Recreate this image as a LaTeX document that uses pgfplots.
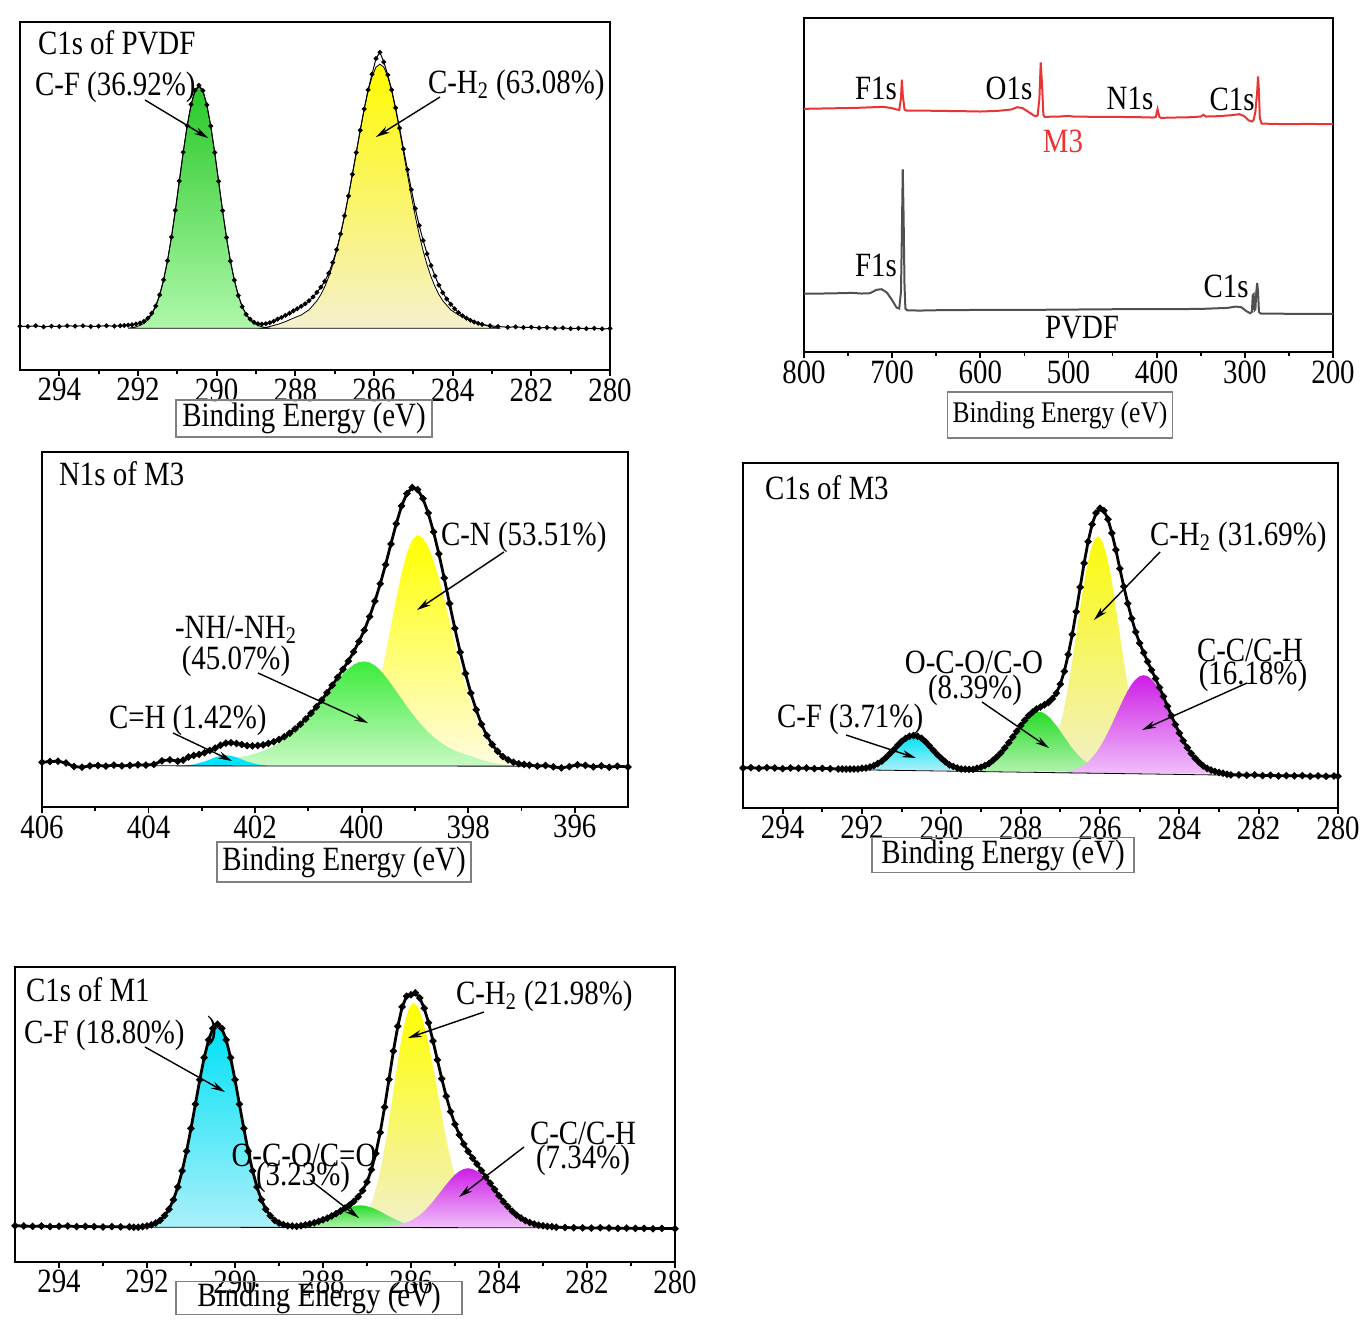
\documentclass[border=0pt]{standalone}
\usepackage{fontspec}
\setmainfont{Liberation Serif}[FakeStretch=0.85]
\usepackage{pgfplots}
\pgfplotsset{compat=1.18}
\usetikzlibrary{arrows.meta}
\newcommand\fs{\fontsize{17}{19}\selectfont}
\newcommand\fss{\fontsize{15}{17}\selectfont}
\definecolor{pgT}{RGB}{40,200,40}\definecolor{pgB}{RGB}{175,248,170}
\definecolor{pyT}{RGB}{255,250,0}\definecolor{pyB}{RGB}{245,240,205}
\definecolor{nyT}{RGB}{255,255,0}\definecolor{nyB}{RGB}{255,252,225}
\definecolor{ngT}{RGB}{60,235,60}\definecolor{ngB}{RGB}{200,250,195}
\definecolor{ncy}{RGB}{0,230,255}
\definecolor{cyT}{RGB}{0,225,245}\definecolor{cyB}{RGB}{170,240,250}
\definecolor{mgT}{RGB}{205,30,230}\definecolor{mgB}{RGB}{240,190,250}
\definecolor{gnT}{RGB}{40,220,40}\definecolor{gnB}{RGB}{175,242,172}
\definecolor{ylT}{RGB}{250,250,10}\definecolor{ylB}{RGB}{242,240,200}
\definecolor{sred}{RGB}{232,52,52}
\definecolor{sgray}{RGB}{80,80,80}
\pgfplotsset{xps/.style={scale only axis, anchor=south west, x dir=reverse,
  ymin=0, ymax=100, ytick=\empty, xtick pos=left, tick align=outside,
  major tick length=3pt, minor tick length=1.8pt,
  tick style={black, line width=0.9pt}, axis line style={line width=1.2pt},
  tick label style={font=\fs}, /pgf/number format/assume math mode=true,
  /pgf/number format/1000 sep={}, xticklabel style={inner sep=1pt}},
  fitc/.style={draw=black, line width=0.4pt},
  dat/.style={black, line width=0.5pt, mark=*, mark size=0.95pt},
  env/.style={black, line width=1.4pt, mark=*, mark size=0.95pt}}
\tikzset{arr/.style={-{Stealth[length=7pt,width=3.6pt]}, line width=0.7pt},
  lb/.style={draw=gray, line width=0.7pt, inner sep=0pt, font=\fs}}
\begin{document}
\begin{tikzpicture}
\path[use as bounding box] (0,0) rectangle (685pt,-663pt);
% ---------- Panel 1: C1s of PVDF ----------
\begin{axis}[xps, at={(10pt,-185pt)}, width=295pt, height=174pt,
  xmin=280, xmax=295, xtick={280,282,...,294}, minor xtick={281,283,...,293}]
\addplot[fitc, top color=pyT, bottom color=pyB] coordinates {
(288.85,12.0)(288.65,12.5)(288.45,13.1)(288.25,13.9)(288.05,14.9)(287.85,15.8)(287.65,17.3)(287.45,19.9)(287.35,21.7)(287.25,24.0)(287.15,26.8)(287.05,30.2)(286.95,34.2)(286.85,38.9)(286.75,44.2)(286.65,50.0)(286.55,56.2)(286.45,62.5)(286.35,68.9)(286.25,74.9)(286.15,80.2)(286.05,84.3)(285.95,87.0)(285.85,87.9)(285.75,87.0)(285.65,84.3)(285.55,80.2)(285.45,74.9)(285.35,68.9)(285.25,62.5)(285.15,56.2)(285.05,50.0)(284.95,44.2)(284.85,38.9)(284.75,34.2)(284.65,30.2)(284.55,26.8)(284.45,24.0)(284.35,21.7)(284.25,19.9)(284.05,17.3)(283.85,15.8)(283.65,14.9)(283.45,13.9)(283.25,13.1)(283.05,12.5)(282.85,12.0)} -- cycle;
\addplot[fitc, top color=pgT, bottom color=pgB] coordinates {
(292.25,12.0)(292.15,12.2)(292.05,12.4)(291.95,12.8)(291.85,13.4)(291.75,14.4)(291.65,15.9)(291.55,18.2)(291.45,21.4)(291.35,25.8)(291.25,31.3)(291.15,38.1)(291.05,45.8)(290.95,54.2)(290.85,62.5)(290.75,70.1)(290.65,76.2)(290.55,80.1)(290.45,81.5)(290.35,80.1)(290.25,76.2)(290.15,70.1)(290.05,62.5)(289.95,54.2)(289.85,45.8)(289.75,38.1)(289.65,31.3)(289.55,25.8)(289.45,21.4)(289.35,18.2)(289.25,15.9)(289.15,14.4)(289.05,13.4)(288.95,12.8)(288.85,12.4)(288.75,12.2)(288.65,12.0)} -- cycle;
\addplot[dat] coordinates {
(295,12.6)(294.8,12.5)(294.6,12.7)(294.4,12.4)(294.2,12.6)(294.0,12.5)(293.8,12.7)(293.6,12.6)(293.4,12.7)(293.2,12.5)(293.0,12.6)(292.8,12.7)(292.6,12.6)(292.45,12.7)(292.35,12.8)
(292.25,12.9)(292.15,13.0)(292.05,13.2)(291.95,13.5)(291.85,14.0)(291.75,14.9)(291.65,16.3)(291.55,18.4)(291.45,21.6)(291.35,25.9)(291.25,31.4)(291.15,38.2)(291.05,45.9)(290.95,54.3)(290.85,62.6)(290.75,70.2)(290.65,76.3)(290.55,80.4)(290.45,81.8)(290.35,80.3)(290.25,76.2)(290.15,70.1)(290.05,62.5)(289.95,54.2)(289.85,45.8)(289.75,38.1)(289.65,31.3)(289.55,25.8)(289.45,21.4)(289.35,18.2)(289.25,16.0)(289.15,14.6)(289.05,13.7)(288.95,13.3)(288.85,13.2)(288.75,13.3)(288.65,13.6)(288.55,14.0)(288.45,14.6)(288.35,15.1)(288.25,15.7)(288.15,16.3)(288.05,17.0)(287.95,17.6)(287.85,18.3)(287.75,19.0)(287.65,19.9)(287.55,21.0)(287.45,22.3)(287.35,23.8)(287.25,25.5)(287.15,27.8)(287.05,30.9)(286.95,34.6)(286.85,39.1)(286.75,44.3)(286.65,50.0)(286.55,56.2)(286.45,62.5)(286.35,68.9)(286.25,75.0)(286.15,80.5)(286.05,85.0)(285.95,89.5)(285.85,91.3)(285.75,88.5)(285.65,84.8)(285.55,80.5)(285.45,75.3)(285.35,69.5)(285.25,63.5)(285.15,57.6)(285.05,51.8)(284.95,46.4)(284.85,41.5)(284.75,37.2)(284.65,33.4)(284.55,30.0)(284.45,27.0)(284.35,24.4)(284.25,22.2)(284.15,20.4)(284.05,18.9)(283.95,17.6)(283.85,16.5)(283.75,15.6)(283.65,14.9)(283.55,14.3)(283.45,13.8)(283.35,13.4)(283.25,13.1)(283.05,12.7)(282.85,12.5)
(282.6,12.3)(282.4,12.4)(282.2,12.2)(282.0,12.3)(281.8,12.1)(281.6,12.2)(281.4,12.0)(281.2,12.1)(281.0,11.9)(280.8,12.0)(280.6,11.9)(280.4,12.0)(280.2,11.8)(280,11.9)};
\end{axis}
% ---------- Panel 2: survey ----------
\begin{axis}[xps, at={(402pt,-176pt)}, width=264.5pt, height=167pt,
  xmin=200, xmax=800, xtick={200,300,...,800}, minor xtick={250,350,...,750}]
\addplot[sred, line width=1.0pt] coordinates {
(800,72.8)(780,72.9)(760,73.0)(740,73.1)(720,73.3)(710,73.4)(700,73.0)(695,72.6)(692,72.5)(690,76)(689,81.5)(688,77)(686,72.6)(684,72.3)(670,72.3)(650,72.2)(620,72.1)(600,72.0)(580,72.2)(565,72.6)(558,73.3)(552,73.0)(545,71.8)(538,70.6)(535,70.8)(533,76)(531.5,86.7)(530,80)(528.5,71)(527,70.4)(510,70.5)(500,70.7)(495,70.5)(470,70.4)(450,70.4)(420,70.3)(405,70.2)(401,70.3)(399,72.7)(397,70.4)(395,70.1)(380,70.2)(360,70.3)(350,70.5)(347,71.0)(344,70.5)(330,70.6)(315,70.9)(306,71.2)(300,70.5)(296,69.4)(292,69.0)(290,69.5)(288,72)(286,78)(285,82.5)(284,78)(283,70)(281,68.4)(270,68.3)(250,68.2)(230,68.3)(200,68.2)};
\addplot[sgray, line width=1.0pt] coordinates {
(800,17.5)(780,17.5)(760,17.6)(745,17.7)(735,17.5)(725,17.6)(718,18.6)(712,18.8)(706,17.8)(700,15.5)(695,13.3)(692,13.0)(690,18)(689,35)(688,54.7)(687,40)(686,20)(685,13.0)(683,12.5)(670,12.4)(650,12.5)(600,12.6)(550,12.6)(500,12.7)(450,12.8)(400,12.8)(350,12.9)(320,13.2)(310,13.6)(304,13.4)(298,12.2)(294,11.6)(292,12.0)(291,17.0)(290,17.3)(289,12.5)(288,12.8)(287,18)(286,20.7)(285,18)(284,12.0)(282,11.5)(270,11.5)(240,11.4)(200,11.4)};
\end{axis}
% ---------- Panel 3: N1s of M3 ----------
\begin{axis}[xps, at={(21pt,-403.5pt)}, width=293pt, height=177.5pt,
  xmin=395, xmax=406, xtick={396,398,...,406}, minor xtick={397,399,...,405}]
\addplot[draw=none, top color=nyT, bottom color=nyB] coordinates {
(400.75,11.6)(400.65,11.8)(400.55,12.0)(400.45,12.3)(400.35,12.9)(400.25,13.8)(400.15,15.2)(400.05,17.4)(399.95,20.4)(399.85,24.5)(399.75,29.7)(399.65,36.0)(399.55,43.2)(399.45,51.0)(399.35,58.8)(399.25,65.9)(399.15,71.6)(399.05,75.3)(398.95,76.6)(398.85,75.8)(398.75,73.3)(398.65,69.4)(398.55,64.4)(398.45,58.6)(398.35,52.3)(398.25,46.0)(398.15,39.9)(398.05,34.3)(397.95,29.3)(397.85,25.1)(397.75,21.6)(397.65,18.8)(397.55,16.7)(397.45,15.1)(397.35,13.9)(397.25,13.1)(397.15,12.6)(397.05,12.2)(396.95,12.0)(396.85,11.8)(396.75,11.6)} -- cycle;
\addplot[draw=none, top color=ngT, bottom color=ngB] coordinates {
(403.35,11.6)(403.15,11.8)(402.95,12.1)(402.75,12.5)(402.55,13.2)(402.35,13.9)(402.15,14.4)(401.95,15.3)(401.85,15.8)(401.75,16.4)(401.65,17.2)(401.55,18.1)(401.45,19.1)(401.35,20.2)(401.25,21.5)(401.15,23.0)(401.05,24.6)(400.95,26.3)(400.85,28.1)(400.75,30.0)(400.65,32.0)(400.55,33.9)(400.45,35.8)(400.35,37.5)(400.25,38.9)(400.15,40.1)(400.05,40.8)(399.95,41.0)(399.85,40.7)(399.75,39.9)(399.65,38.5)(399.55,36.7)(399.45,34.7)(399.35,32.6)(399.25,30.5)(399.15,28.3)(399.05,26.3)(398.95,24.4)(398.85,22.7)(398.75,21.1)(398.65,19.7)(398.55,18.5)(398.45,17.5)(398.35,16.6)(398.25,15.9)(398.15,15.3)(397.95,14.4)(397.75,13.3)(397.55,12.5)(397.35,11.9)(397.15,11.6)} -- cycle;
\addplot[draw=none, fill=ncy] coordinates {
(403.35,11.6)(403.25,11.8)(403.15,12.0)(403.05,12.4)(402.95,12.8)(402.85,13.4)(402.75,14.0)(402.65,14.4)(402.55,14.6)(402.45,14.4)(402.35,14.0)(402.25,13.4)(402.15,12.8)(402.05,12.4)(401.95,12.0)(401.85,11.8)(401.75,11.6)} -- cycle;
\addplot[black, line width=0.4pt] coordinates {(404,11.6)(396.5,11.5)};
\addplot[env] coordinates {
(406.0,12.6)(405.85,12.8)(405.7,12.9)(405.55,12.4)(405.4,11.4)(405.25,11.2)(405.1,11.6)(404.95,11.7)(404.8,11.5)(404.65,11.8)(404.5,11.6)(404.35,11.7)(404.2,11.9)(404.05,11.8)(403.9,12.0)(403.75,13.0)(403.6,13.3)(403.45,12.9)(403.35,13.2)(403.25,14.1)(403.15,14.5)(403.05,14.8)(402.95,15.3)(402.85,15.9)(402.75,16.6)(402.65,17.4)(402.55,18.0)(402.45,18.1)(402.35,17.9)(402.25,17.6)(402.15,17.3)(402.05,17.2)(401.95,17.3)(401.85,17.5)(401.75,17.9)(401.65,18.4)(401.55,19.0)(401.45,19.8)(401.35,20.8)(401.25,22.0)(401.15,23.3)(401.05,24.8)(400.95,26.4)(400.85,28.2)(400.75,30.1)(400.65,32.2)(400.55,34.3)(400.45,36.5)(400.35,38.8)(400.25,41.1)(400.15,43.7)(400.05,46.6)(399.95,49.8)(399.85,53.6)(399.75,58.0)(399.65,62.9)(399.55,68.3)(399.45,74.1)(399.35,79.8)(399.25,84.8)(399.15,88.3)(399.05,90.0)(398.95,89.4)(398.85,86.9)(398.75,82.8)(398.65,77.5)(398.55,71.3)(398.45,64.5)(398.35,57.3)(398.25,50.3)(398.15,43.6)(398.05,37.6)(397.95,32.1)(397.85,27.4)(397.75,23.3)(397.65,20.1)(397.55,17.6)(397.45,15.7)(397.35,14.2)(397.25,13.3)(397.15,12.6)(397.05,12.2)(396.95,12.0)(396.85,11.8)(396.7,11.5)(396.55,11.7)(396.4,11.3)(396.25,11.0)(396.1,11.4)(395.95,11.9)(395.8,11.7)(395.65,11.3)(395.5,11.6)(395.35,11.2)(395.2,11.5)(395.0,11.3)};
\end{axis}
% ---------- Panel 4: C1s of M3 ----------
\begin{axis}[xps, at={(371.5pt,-404pt)}, width=297.5pt, height=172.5pt,
  xmin=280, xmax=295, xtick={280,282,...,294}, minor xtick={281,283,...,293}]
\addplot[draw=none, top color=ylT, bottom color=ylB] coordinates {
(287.95,10.3)(287.85,10.5)(287.75,10.7)(287.65,11.0)(287.55,11.5)(287.45,12.4)(287.35,13.7)(287.25,15.6)(287.15,18.3)(287.05,21.8)(286.95,26.5)(286.85,32.2)(286.75,38.9)(286.65,46.4)(286.55,54.2)(286.45,61.8)(286.35,68.7)(286.25,74.1)(286.15,77.6)(286.05,78.8)(285.95,77.6)(285.85,74.1)(285.75,68.7)(285.65,61.8)(285.55,54.2)(285.45,46.4)(285.35,38.9)(285.25,32.2)(285.15,26.5)(285.05,21.8)(284.95,18.3)(284.85,15.6)(284.75,13.7)(284.65,12.4)(284.55,11.5)(284.45,11.0)(284.35,10.7)(284.25,10.5)(284.15,10.3)} -- cycle;
\addplot[draw=none, top color=gnT, bottom color=gnB] coordinates {
(289.55,10.6)(289.45,10.8)(289.35,10.9)(289.25,11.0)(289.15,11.2)(289.05,11.5)(288.95,11.9)(288.85,12.5)(288.75,13.3)(288.65,14.2)(288.55,15.3)(288.45,16.6)(288.35,18.1)(288.25,19.8)(288.15,21.4)(288.05,23.1)(287.95,24.6)(287.85,26.0)(287.75,27.0)(287.65,27.7)(287.55,27.9)(287.45,27.7)(287.35,27.0)(287.25,26.0)(287.15,24.6)(287.05,23.1)(286.95,21.4)(286.85,19.8)(286.75,18.1)(286.65,16.6)(286.55,15.3)(286.45,14.2)(286.35,13.3)(286.25,12.5)(286.15,11.9)(286.05,11.5)(285.95,11.2)(285.85,11.0)(285.75,10.9)(285.65,10.8)(285.55,10.6)} -- cycle;
\addplot[draw=none, top color=mgT, bottom color=mgB] coordinates {
(287.1,10.0)(287.0,10.2)(286.9,10.4)(286.8,10.6)(286.7,10.9)(286.6,11.3)(286.5,11.8)(286.4,12.5)(286.3,13.4)(286.2,14.6)(286.1,16.0)(286.0,17.7)(285.9,19.7)(285.8,21.9)(285.7,24.3)(285.6,26.8)(285.5,29.3)(285.4,31.8)(285.3,34.0)(285.2,35.9)(285.1,37.3)(285.0,38.2)(284.9,38.5)(284.8,38.2)(284.7,37.3)(284.6,35.9)(284.5,34.0)(284.4,31.8)(284.3,29.3)(284.2,26.8)(284.1,24.3)(284.0,21.9)(283.9,19.7)(283.8,17.7)(283.7,16.0)(283.6,14.6)(283.5,13.4)(283.4,12.5)(283.3,11.8)(283.2,11.3)(283.1,10.9)(283.0,10.6)(282.9,10.4)(282.8,10.2)(282.7,10.0)} -- cycle;
\addplot[draw=none, top color=cyT, bottom color=cyB] coordinates {
(292.2,11.0)(292.1,11.1)(292.0,11.3)(291.9,11.4)(291.8,11.7)(291.7,12.1)(291.6,12.7)(291.5,13.5)(291.4,14.5)(291.3,15.6)(291.2,16.8)(291.1,18.1)(291.0,19.2)(290.9,20.2)(290.8,20.8)(290.7,21.0)(290.6,20.8)(290.5,20.2)(290.4,19.2)(290.3,18.1)(290.2,16.8)(290.1,15.6)(290.0,14.5)(289.9,13.5)(289.8,12.7)(289.7,12.1)(289.6,11.7)(289.5,11.4)(289.4,11.3)(289.3,11.1)(289.2,11.0)} -- cycle;
\addplot[black, line width=0.4pt] coordinates {(292.3,11.1)(282.6,9.5)};
\addplot[env] coordinates {
(295,11.6)(294.8,11.7)(294.6,11.5)(294.4,11.7)(294.2,11.6)(294.0,11.4)(293.8,11.6)(293.6,11.5)(293.4,11.6)(293.2,11.4)(293.0,11.5)(292.8,11.4)(292.6,11.3)
(292.5,11.3)(292.4,11.3)(292.3,11.3)(292.2,11.3)(292.1,11.3)(292.0,11.5)(291.9,11.6)(291.8,11.9)(291.7,12.3)(291.6,12.9)(291.5,13.6)(291.4,14.6)(291.3,15.7)(291.2,16.9)(291.1,18.2)(291.0,19.3)(290.9,20.2)(290.8,20.8)(290.7,21.0)(290.6,20.8)(290.5,20.2)(290.4,19.2)(290.3,18.0)(290.2,16.7)(290.1,15.5)(290.0,14.4)(289.9,13.4)(289.8,12.5)(289.7,12.0)(289.6,11.6)(289.5,11.3)(289.4,11.3)(289.3,11.2)(289.2,11.2)(289.1,11.5)(289.0,11.8)(288.9,12.3)(288.8,12.9)(288.7,13.8)(288.6,14.8)(288.5,16.0)(288.4,17.4)(288.3,18.9)(288.2,20.6)(288.1,22.2)(288.0,23.9)(287.9,25.4)(287.8,26.8)(287.7,27.8)(287.6,28.7)(287.5,29.3)(287.4,29.9)(287.3,30.6)(287.2,31.7)(287.1,33.3)(287.0,35.9)(286.9,39.6)(286.8,44.5)(286.7,50.3)(286.6,56.9)(286.5,64.0)(286.4,71.0)(286.3,77.2)(286.2,82.2)(286.1,85.5)(286.0,86.9)(285.9,86.2)(285.8,83.7)(285.7,79.7)(285.6,74.8)(285.5,69.4)(285.4,64.2)(285.3,59.3)(285.2,54.9)(285.1,51.0)(285.0,47.8)(284.9,45.0)(284.8,42.4)(284.7,40.0)(284.6,37.5)(284.5,34.9)(284.4,32.3)(284.3,29.5)(284.2,26.8)(284.1,24.2)(284.0,21.7)(283.9,19.5)(283.8,17.5)(283.7,15.8)(283.6,14.4)(283.5,13.2)(283.4,12.2)(283.3,11.5)(283.2,11.0)(283.1,10.6)(283.0,10.3)(282.9,10.1)(282.8,9.8)(282.7,9.6)
(282.5,9.6)(282.3,9.5)(282.1,9.6)(281.9,9.4)(281.7,9.5)(281.5,9.3)(281.3,9.4)(281.1,9.3)(280.9,9.4)(280.7,9.2)(280.5,9.3)(280.3,9.2)(280.1,9.3)(280,9.2)};
\end{axis}
% ---------- Panel 5: C1s of M1 ----------
\begin{axis}[xps, at={(7.5pt,-631pt)}, width=330pt, height=147.5pt,
  xmin=280, xmax=295, xtick={280,282,...,294}, minor xtick={281,283,...,293}]
\addplot[draw=none, top color=nyT, bottom color=ylB] coordinates {
(287.55,11.8)(287.45,12.1)(287.35,12.4)(287.25,13.0)(287.15,14.0)(287.05,15.6)(286.95,18.2)(286.85,22.1)(286.75,27.4)(286.65,34.5)(286.55,43.0)(286.45,52.8)(286.35,63.0)(286.25,72.7)(286.15,80.7)(286.05,85.9)(285.95,87.8)(285.85,86.6)(285.75,82.9)(285.65,77.3)(285.55,70.1)(285.45,62.1)(285.35,53.7)(285.25,45.6)(285.15,38.2)(285.05,31.7)(284.95,26.4)(284.85,22.1)(284.75,18.8)(284.65,16.5)(284.55,14.8)(284.45,13.7)(284.35,12.9)(284.25,12.4)(284.15,12.2)(284.05,11.8)} -- cycle;
\addplot[draw=none, top color=gnT, bottom color=gnB] coordinates {
(288.75,11.8)(288.65,12.0)(288.55,12.1)(288.45,12.3)(288.35,12.5)(288.25,12.8)(288.15,13.2)(288.05,13.7)(287.95,14.4)(287.85,15.1)(287.75,15.9)(287.65,16.7)(287.55,17.5)(287.45,18.2)(287.35,18.7)(287.25,19.1)(287.15,19.2)(287.05,19.1)(286.95,18.7)(286.85,18.2)(286.75,17.5)(286.65,16.7)(286.55,15.9)(286.45,15.1)(286.35,14.4)(286.25,13.7)(286.15,13.2)(286.05,12.8)(285.95,12.5)(285.85,12.3)(285.75,12.1)(285.65,12.0)(285.55,11.8)} -- cycle;
\addplot[draw=none, top color=mgT, bottom color=mgB] coordinates {
(286.7,11.8)(286.6,12.0)(286.5,12.1)(286.4,12.3)(286.3,12.5)(286.2,12.9)(286.1,13.4)(286.0,14.0)(285.9,14.9)(285.8,15.9)(285.7,17.2)(285.6,18.8)(285.5,20.5)(285.4,22.4)(285.3,24.3)(285.2,26.2)(285.1,28.0)(285.0,29.6)(284.9,30.8)(284.8,31.5)(284.7,31.8)(284.6,31.5)(284.5,30.8)(284.4,29.6)(284.3,28.0)(284.2,26.2)(284.1,24.3)(284.0,22.4)(283.9,20.5)(283.8,18.8)(283.7,17.2)(283.6,15.9)(283.5,14.9)(283.4,14.0)(283.3,13.4)(283.2,12.9)(283.1,12.5)(283.0,12.3)(282.9,12.1)(282.8,12.0)(282.7,11.8)} -- cycle;
\addplot[draw=none, top color=cyT, bottom color=cyB] coordinates {
(292.2,11.8)(292.1,12.0)(292.0,12.2)(291.9,12.6)(291.8,13.2)(291.7,14.1)(291.6,15.7)(291.5,17.9)(291.4,21.1)(291.3,25.4)(291.2,30.9)(291.1,37.6)(291.0,45.3)(290.9,53.5)(290.8,61.8)(290.7,69.3)(290.6,75.3)(290.5,79.2)(290.4,80.6)(290.3,79.2)(290.2,75.3)(290.1,69.3)(290.0,61.8)(289.9,53.5)(289.8,45.3)(289.7,37.6)(289.6,30.9)(289.5,25.4)(289.4,21.1)(289.3,17.9)(289.2,15.7)(289.1,14.1)(289.0,13.2)(288.9,12.6)(288.8,12.2)(288.7,12.0)(288.6,11.8)} -- cycle;
\addplot[black, line width=0.4pt] coordinates {(292.3,11.8)(282.6,11.6)};
\addplot[env] coordinates {
(295,12.3)(294.8,12.2)(294.6,12.1)(294.4,12.2)(294.2,12.0)(294.0,12.1)(293.8,12.2)(293.6,12.0)(293.4,12.1)(293.2,12.0)(293.0,11.9)(292.8,12.0)(292.6,11.9)(292.4,11.9)(292.3,11.8)
(292.2,11.8)(292.1,12.0)(292.0,12.2)(291.9,12.6)(291.8,13.2)(291.7,14.1)(291.6,15.7)(291.5,17.9)(291.4,21.1)(291.3,25.4)(291.2,30.9)(291.1,37.6)(291.0,45.3)(290.9,53.5)(290.8,61.8)(290.7,69.3)(290.6,75.3)(290.5,79.2)(290.4,80.6)(290.3,79.2)(290.2,75.3)(290.1,69.3)(290.0,61.8)(289.9,53.5)(289.8,45.3)(289.7,37.6)(289.6,30.9)(289.5,25.4)(289.4,21.1)(289.3,17.9)(289.2,15.7)(289.1,14.1)(289.0,13.2)(288.9,12.7)(288.8,12.3)(288.7,12.2)(288.6,12.1)(288.5,12.3)(288.4,12.6)(288.3,12.9)(288.2,13.3)(288.1,13.8)(288.0,14.3)(287.9,14.9)(287.8,15.6)(287.7,16.4)(287.6,17.3)(287.5,18.3)(287.4,19.3)(287.3,20.5)(287.2,22.1)(287.1,24.2)(287.0,27.1)(286.9,31.3)(286.8,36.8)(286.7,43.9)(286.6,52.5)(286.5,61.9)(286.4,71.5)(286.3,79.9)(286.2,86.5)(286.1,90.1)(286.0,90.6)(285.9,91.2)(285.8,89.5)(285.7,86.0)(285.6,81.1)(285.5,74.9)(285.4,68.5)(285.3,62.1)(285.2,56.2)(285.1,51.0)(285.0,46.7)(284.9,43.1)(284.8,40.0)(284.7,37.5)(284.6,35.2)(284.5,33.2)(284.4,31.0)(284.3,28.8)(284.2,26.7)(284.1,24.6)(284.0,22.5)(283.9,20.5)(283.8,18.8)(283.7,17.2)(283.6,15.9)(283.5,14.9)(283.4,14.0)(283.3,13.4)(283.2,12.9)(283.1,12.5)(283.0,12.3)(282.9,12.1)(282.8,12.0)(282.7,11.8)
(282.5,11.7)(282.3,11.6)(282.1,11.6)(281.9,11.5)(281.7,11.6)(281.5,11.5)(281.3,11.4)(281.1,11.5)(280.9,11.4)(280.7,11.4)(280.5,11.3)(280.3,11.4)(280,11.3)};
\end{axis}
% ---------- texts and arrows (pixel coordinates) ----------
\begin{scope}[x=0.5pt, y=-0.5pt, font=\fs]
% panel 1
\node[anchor=west] at (31,43) {C1s of PVDF};
\node[anchor=west] at (28,87) {C-F (36.92\%)};
\node[anchor=west] at (421,85) {C-H\textsubscript{2} (63.08\%)};
\draw[arr] (145,100) -- (208,138);
\draw[arr] (440,97) -- (376,137);
\node[lb, minimum width=128pt, minimum height=18.5pt] at (304,418.5) {Binding Energy (eV)};
% panel 2
\node at (876,88) {F1s};
\node at (1009,88) {O1s};
\node at (1130,98) {N1s};
\node at (1232,99) {C1s};
\node[text=sred] at (1063,141) {M3};
\node at (876,265) {F1s};
\node at (1226,286) {C1s};
\node at (1082,328) {PVDF};
\node[lb, font=\fss, minimum width=112.5pt, minimum height=23pt] at (1060,415) {Binding Energy (eV)};
% panel 3
\node[anchor=west] at (52,474) {N1s of M3};
\node[anchor=west] at (434,537) {C-N (53.51\%)};
\node at (236,630) {-NH/-NH\textsubscript{2}};
\node at (236,661) {(45.07\%)};
\node[anchor=west] at (102,720) {C=H (1.42\%)};
\draw[arr] (504,552) -- (417,610);
\draw[arr] (258,673) -- (368,723);
\draw[arr] (173,733) -- (232,761);
\node[lb, minimum width=127pt, minimum height=20pt] at (344,862) {Binding Energy (eV)};
% panel 4
\node[anchor=west] at (758,488) {C1s of M3};
\node[anchor=west] at (1143,537) {C-H\textsubscript{2} (31.69\%)};
\node at (1250,650) {C-C/C-H};
\node at (1253,676) {(16.18\%)};
\node at (974,662) {O-C-O/C-O};
\node at (975,690) {(8.39\%)};
\node[anchor=west] at (770,719) {C-F (3.71\%)};
\draw[arr] (1160,552) -- (1094,620);
\draw[arr] (1247,683) -- (1142,730);
\draw[arr] (982,702) -- (1049,748);
\draw[arr] (846,735) -- (916,758);
\node[lb, minimum width=131pt, minimum height=17.5pt] at (1003,855) {Binding Energy (eV)};
% panel 5
\node[anchor=west] at (19,990) {C1s of M1};
\node[anchor=west] at (17,1035) {C-F (18.80\%)};
\node at (212,1031) {)};
\node[anchor=west] at (449,996) {C-H\textsubscript{2} (21.98\%)};
\node at (583,1133) {C-C/C-H};
\node at (583,1160) {(7.34\%)};
\node at (304,1155) {O-C-O/C=O};
\node at (303,1177) {(3.23\%)};
\draw[arr] (145,1047) -- (225,1092);
\draw[arr] (484,1012) -- (408,1038);
\draw[arr] (524,1147) -- (459,1197);
\draw[arr] (310,1180) -- (359,1218);
\node[lb, minimum width=143pt, minimum height=16.5pt] at (319,1298) {Binding Energy (eV)};
\end{scope}
\end{tikzpicture}
\end{document}
